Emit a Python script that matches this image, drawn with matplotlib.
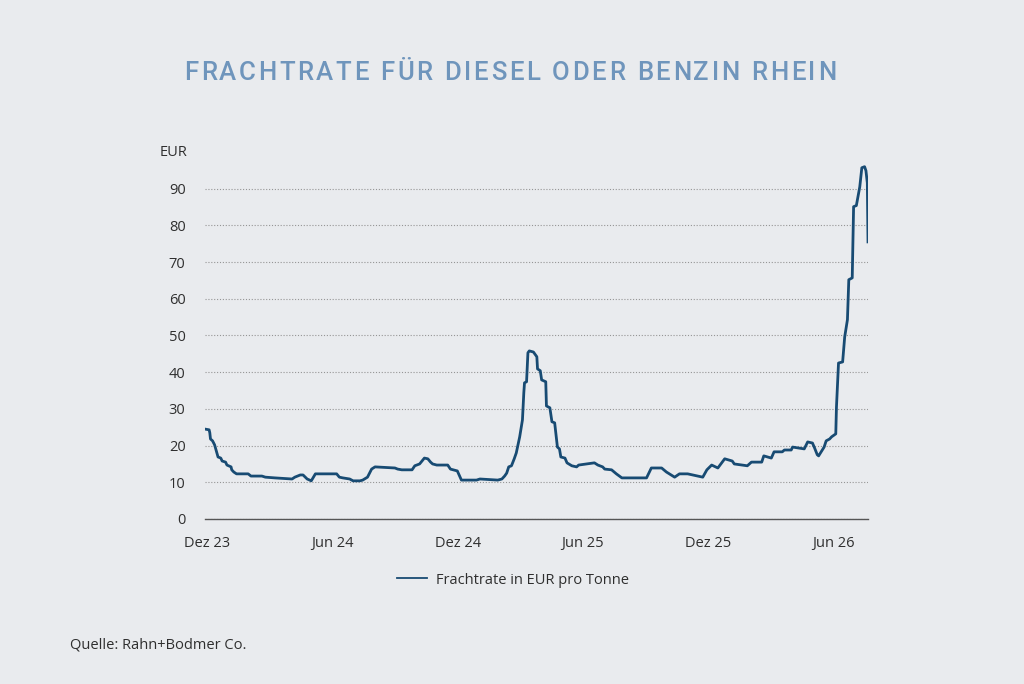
import matplotlib
matplotlib.use("Agg")
import matplotlib.pyplot as plt
import pandas as pd

# values (EUR per tonne)
dates = [
    "2023-11-28", "2023-12-04", "2023-12-05", "2023-12-06", "2023-12-09", "2023-12-12",
    "2023-12-17", "2023-12-21", "2023-12-23", "2023-12-28", "2023-12-30", "2024-01-05",
    "2024-01-06", "2024-01-09", "2024-01-13", "2024-01-30", "2024-02-03", "2024-02-19",
    "2024-02-24", "2024-03-09", "2024-04-03", "2024-04-07", "2024-04-15", "2024-04-19",
    "2024-04-25", "2024-05-01", "2024-05-07", "2024-06-07", "2024-06-11", "2024-06-16",
    "2024-06-26", "2024-07-01", "2024-07-11", "2024-07-15", "2024-07-22", "2024-07-28",
    "2024-08-02", "2024-08-31", "2024-09-04", "2024-09-10", "2024-09-25", "2024-09-29",
    "2024-10-06", "2024-10-13", "2024-10-18", "2024-10-22", "2024-10-25", "2024-10-31",
    "2024-11-16", "2024-11-20", "2024-11-30", "2024-12-06", "2024-12-28", "2025-01-02",
    "2025-01-28", "2025-02-03", "2025-02-07", "2025-02-10", "2025-02-13", "2025-02-17",
    "2025-02-21", "2025-02-24", "2025-03-01", "2025-03-05", "2025-03-07", "2025-03-08",
    "2025-03-11", "2025-03-13", "2025-03-15", "2025-03-21", "2025-03-26", "2025-03-27",
    "2025-03-31", "2025-04-02", "2025-04-08", "2025-04-09", "2025-04-14", "2025-04-17",
    "2025-04-21", "2025-04-25", "2025-04-28", "2025-04-30", "2025-05-06", "2025-05-09",
    "2025-05-16", "2025-05-23", "2025-05-26", "2025-06-07", "2025-06-18", "2025-06-23",
    "2025-06-30", "2025-07-03", "2025-07-13", "2025-07-20", "2025-07-28", "2025-09-02",
    "2025-09-09", "2025-09-24", "2025-10-01", "2025-10-13", "2025-10-20", "2025-11-01",
    "2025-11-23", "2025-11-29", "2025-12-06", "2025-12-15", "2025-12-25", "2026-01-05",
    "2026-01-08", "2026-01-27", "2026-02-02", "2026-02-17", "2026-02-20", "2026-03-03",
    "2026-03-07", "2026-03-19", "2026-03-22", "2026-04-01", "2026-04-03", "2026-04-20",
    "2026-04-25", "2026-05-02", "2026-05-05", "2026-05-09", "2026-05-11", "2026-05-19",
    "2026-05-22", "2026-05-27", "2026-05-30", "2026-06-05", "2026-06-06", "2026-06-09",
    "2026-06-15", "2026-06-18", "2026-06-22", "2026-06-24", "2026-06-29", "2026-07-01",
    "2026-07-05", "2026-07-10", "2026-07-13", "2026-07-17", "2026-07-19", "2026-07-21",
    "2026-07-22",
]
values = [
    24.5, 24.3, 23.5, 21.8, 21.3, 20.2,
    16.9, 16.6, 15.8, 15.5, 14.7, 14.2,
    13.4, 12.8, 12.3, 12.3, 11.7, 11.7,
    11.4, 11.2, 10.9, 11.4, 12.0, 12.0,
    10.9, 10.4, 12.3, 12.3, 11.4, 11.2,
    10.9, 10.4, 10.4, 10.6, 11.4, 13.6,
    14.2, 13.9, 13.6, 13.4, 13.4, 14.5,
    15.0, 16.6, 16.4, 15.5, 15.0, 14.7,
    14.7, 13.6, 13.1, 10.6, 10.6, 10.9,
    10.6, 10.9, 11.7, 12.5, 14.2, 14.5,
    16.4, 18.0, 22.4, 27.0, 34.4, 37.1,
    37.4, 45.3, 45.8, 45.5, 44.2, 40.9,
    40.4, 37.9, 37.4, 30.8, 30.3, 26.5,
    26.2, 19.6, 19.1, 16.9, 16.6, 15.3,
    14.5, 14.2, 14.7, 15.0, 15.3, 14.7,
    14.2, 13.6, 13.4, 12.3, 11.2, 11.2,
    13.9, 13.9, 12.8, 11.4, 12.3, 12.3,
    11.4, 13.4, 14.7, 13.9, 16.4, 15.8,
    15.0, 14.5, 15.5, 15.5, 17.2, 16.6,
    18.3, 18.3, 18.8, 18.8, 19.6, 19.1,
    21.0, 20.7, 19.4, 17.5, 17.2, 19.6,
    21.3, 21.8, 22.4, 23.2, 30.5, 42.5,
    42.8, 49.6, 54.3, 65.2, 65.7, 85.1,
    85.4, 90.5, 95.7, 96.0, 94.9, 91.6,
    75.5,
]

tick_dates = ["2023-12-01", "2024-06-01", "2024-12-01", "2025-06-01", "2025-12-01", "2026-06-01"]
tick_labels = ["Dez 23", "Jun 24", "Dez 24", "Jun 25", "Dez 25", "Jun 26"]
y_ticks = [0, 10, 20, 30, 40, 50, 60, 70, 80, 90]

title = "FRACHTRATE FÜR DIESEL ODER BENZIN RHEIN"
legend_label = "Frachtrate in EUR pro Tonne"
source = "Quelle: Rahn+Bodmer Co."

bg = "#e9ebee"
line_col = "#184b73"
title_col = "#6f95bc"
text_col = "#2f2f2f"

plt.rcParams["font.family"] = ["Open Sans", "DejaVu Sans"]

fig = plt.figure(figsize=(10.24, 6.84), dpi=100, facecolor=bg)
ax = fig.add_axes([205 / 1024, 1 - 519 / 684, 663 / 1024, 356 / 684])
ax.set_facecolor(bg)

ax.plot(pd.to_datetime(dates), values, color=line_col, lw=2.0,
        solid_joinstyle="round", label=legend_label)

ax.set_xlim(pd.Timestamp("2023-11-28"), pd.Timestamp("2026-07-22"))
ax.set_ylim(0, 97)
ax.set_xticks(pd.to_datetime(tick_dates))
ax.set_xticklabels(tick_labels)
ax.set_yticks(y_ticks)
ax.set_yticklabels([str(v) for v in y_ticks])
ax.tick_params(axis="both", length=0, labelsize=10.5, labelcolor=text_col)
ax.tick_params(axis="x", pad=12)
ax.tick_params(axis="y", pad=14)

ax.yaxis.grid(True, linestyle=(0, (1, 1.6)), color="#959595", lw=0.8)
ax.set_axisbelow(True)
for s in ["top", "right", "left"]:
    ax.spines[s].set_visible(False)
ax.spines["bottom"].set_color("#555555")
ax.spines["bottom"].set_linewidth(1.0)

fig.text(160 / 1024, 1 - 153 / 684, "EUR", ha="left", va="center",
         fontsize=10.5, color=text_col)

leg = fig.legend(loc="center", bbox_to_anchor=(513 / 1024, 1 - 580 / 684),
                 frameon=False, fontsize=10.5, handlelength=2.1, handletextpad=0.6)
for t in leg.get_texts():
    t.set_color(text_col)
for ln in leg.get_lines():
    ln.set_linewidth(1.3)

fig.text(70 / 1024, 1 - 645 / 684, source, ha="left", va="center",
         fontsize=10.5, color=text_col)

# title with letter spacing, placed char by char
r = fig.canvas.get_renderer()
tfont = dict(fontsize=18.5, family=["Roboto", "DejaVu Sans"], weight="medium", color=title_col)
widths = []
for ch in title:
    if ch == " ":
        widths.append(None)
    else:
        t = fig.text(0, 0, ch, **tfont)
        widths.append(t.get_window_extent(r).width)
        t.remove()
avg = sum(w for w in widths if w) / len([w for w in widths if w])
widths = [w if w else avg * 0.45 for w in widths]
x_left, x_right = 184, 836
gap = (x_right - x_left - sum(widths)) / (len(title) - 1)
x = x_left
for ch, w in zip(title, widths):
    if ch != " ":
        fig.text(x / 1024, 1 - 80 / 684, ch, ha="left", va="baseline", **tfont)
    x += w + gap

fig.savefig("out.png", dpi=100, facecolor=bg)
